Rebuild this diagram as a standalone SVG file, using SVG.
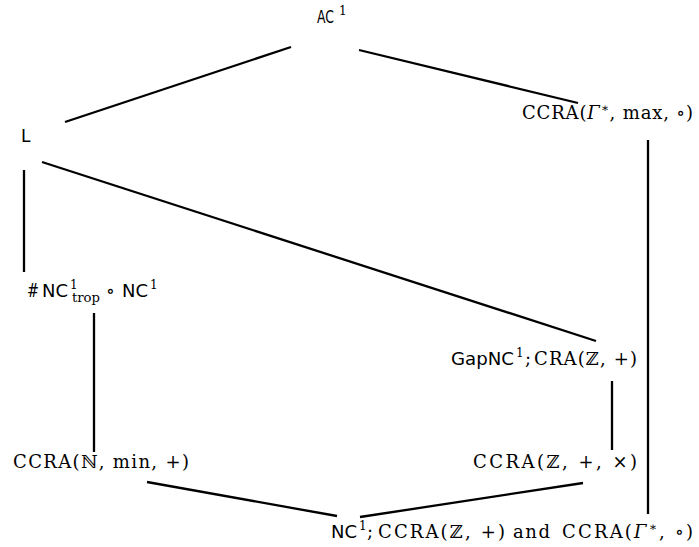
<svg xmlns="http://www.w3.org/2000/svg" width="699" height="547" viewBox="0 0 699 547">
<style>
.s{font-family:"DejaVu Sans","Liberation Sans",sans-serif;font-size:17px;fill:#000}
.m{font-family:"DejaVu Serif","Liberation Serif",serif;font-size:18px;fill:#000}
.i{font-style:italic}
.sup{font-family:"DejaVu Serif","Liberation Serif",serif;font-size:12px;fill:#000}
.edge{stroke:#000;stroke-width:2.3;fill:none}
</style>
<rect width="699" height="547" fill="#fff"/>
<g id="connectors">
<line class="edge" x1="291" y1="47" x2="65" y2="122"/>
<line class="edge" x1="359" y1="50" x2="578" y2="103"/>
<line class="edge" x1="24" y1="170" x2="24" y2="272"/>
<line class="edge" x1="42" y1="162" x2="596" y2="341"/>
<line class="edge" x1="94" y1="313" x2="94" y2="452"/>
<line class="edge" x1="612" y1="381" x2="612" y2="450"/>
<line class="edge" x1="648" y1="140" x2="648" y2="514"/>
<line class="edge" x1="147" y1="482" x2="337" y2="516"/>
<line class="edge" x1="360" y1="517" x2="583" y2="483"/>
</g>
<g id="n-ac1">
<text class="s" x="317" y="23" textLength="17" lengthAdjust="spacingAndGlyphs">AC</text>
<text class="sup" x="339" y="15">1</text>
</g>
<g id="n-l"><text class="s" x="21" y="142">L</text></g>
<g id="n-ccra-gamma-max">
<text class="m" x="522" y="119" textLength="171" lengthAdjust="spacing">CCRA(<tspan class="i">Γ</tspan><tspan font-size="12" dy="-7">∗</tspan><tspan dy="7">, max, ∘)</tspan></text>
</g>
<g id="n-nctrop">
<text class="m" x="27" y="297" textLength="12" lengthAdjust="spacingAndGlyphs">#</text>
<text class="s" x="42" y="297" textLength="26" lengthAdjust="spacingAndGlyphs">NC</text>
<text class="sup" x="70" y="289">1</text>
<text class="sup" x="72" y="302" textLength="28" lengthAdjust="spacingAndGlyphs">trop</text>
<text class="m" x="106" y="297">∘</text>
<text class="s" x="122" y="297" textLength="26" lengthAdjust="spacingAndGlyphs">NC</text>
<text class="sup" x="150" y="289">1</text>
</g>
<g id="n-gapnc">
<text class="s" x="451" y="365" textLength="63" lengthAdjust="spacingAndGlyphs">GapNC</text>
<text class="sup" x="516" y="357">1</text>
<text class="m" x="525" y="365">;</text>
<text class="m" x="534" y="365" textLength="103" lengthAdjust="spacing">CRA(ℤ, +)</text>
</g>
<g id="n-ccra-n"><text class="m" x="13" y="468" textLength="176" lengthAdjust="spacing">CCRA(ℕ, min, +)</text></g>
<g id="n-ccra-z"><text class="m" x="473" y="468" textLength="164" lengthAdjust="spacing">CCRA(ℤ, +, ×)</text></g>
<g id="n-nc1">
<text class="s" x="331" y="538" textLength="26" lengthAdjust="spacingAndGlyphs">NC</text>
<text class="sup" x="359" y="530">1</text>
<text class="m" x="367" y="538">;</text>
<text class="m" x="378" y="538" textLength="127" lengthAdjust="spacing">CCRA(ℤ, +)</text>
<text class="m" x="513" y="538" textLength="37" lengthAdjust="spacing">and</text>
<text class="m" x="562" y="538" textLength="131" lengthAdjust="spacing">CCRA(<tspan class="i">Γ</tspan><tspan font-size="12" dy="-7">∗</tspan><tspan dy="7">, ∘)</tspan></text>
</g>
</svg>
